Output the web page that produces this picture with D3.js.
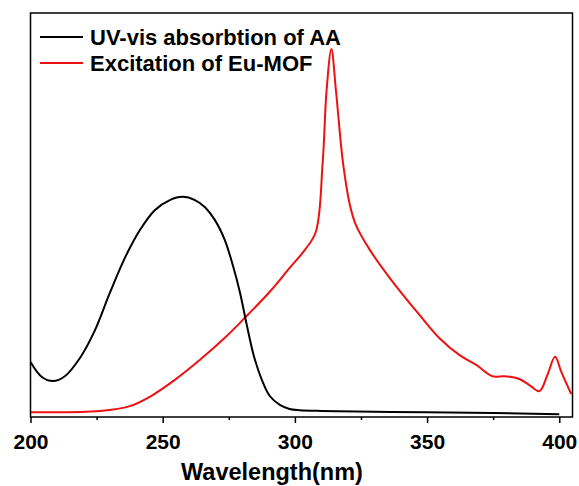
<!DOCTYPE html>
<html><head><meta charset="utf-8">
<script src="https://cdn.jsdelivr.net/npm/d3@7"></script>
<style>body{margin:0;background:#fff}svg{display:block}</style>
</head><body>
<script>
// Data
const uvWavelength = [200,204.3,208.5,213,218.7,224.4,230,235.7,241.4,247,252.7,257.6,262.2,266,269.7,273.5,276.5,279.2,281.8,284.4,287.5,290.5,294.3,298,301.8,310,330,350,375,400];
const uvIntensity  = [13.6,9.9,8.9,10.1,14.6,21.5,30.7,39.4,46.3,51.2,53.7,54.5,53.7,51.9,48.8,43.8,37.6,30.9,22.8,15.3,9.2,5.2,3.0,2.0,1.7,1.5,1.3,1.2,1.0,0.7];
const exWavelength = [200,226.3,237.6,245.1,254.6,264,273.5,281,290.5,298,303.7,307.9,310.5,312,313.8,315.5,318.2,320.8,323.1,328.4,335.9,347.2,354.7,362.3,368.6,374.7,379.2,384.9,388.7,392.5,395.5,398.4,400.8,404.5];
const exIntensity  = [1.2,1.5,2.7,5.0,9.2,14.1,19.6,24.5,31.0,36.9,41.3,45.8,62.9,81,91.1,81,62.9,52.5,47.5,41.3,34.4,25.2,19.5,15.3,12.9,10.1,10.1,9.4,7.9,6.4,10.4,14.9,11.1,5.7];
const xTicks = [200,250,300,350,400];
const xMinor = [225,275,325,375];
const seriesNames = ["UV-vis absorbtion of AA","Excitation of Eu-MOF"];
const seriesColors = ["#000000","#ee1111"];

const W=579,H=486;
const m={l:30.5,r:6.5,t:13,b:69};
const svg=d3.select("body").append("svg").attr("width",W).attr("height",H);
const x=d3.scaleLinear().domain([200,405]).range([m.l,W-m.r]);
const y=d3.scaleLinear().domain([0,100]).range([H-m.b,m.t]);
const font="'Liberation Sans',Arial,sans-serif";

const line=d3.line().x(d=>x(d[0])).y(d=>y(d[1])).curve(d3.curveCatmullRom.alpha(0.5));
const uv=uvWavelength.map((w,i)=>[w,uvIntensity[i]]);
const ex=exWavelength.map((w,i)=>[w,exIntensity[i]]);
svg.append("path").attr("d",line(ex)).attr("fill","none").attr("stroke",seriesColors[1]).attr("stroke-width",2);
svg.append("path").attr("d",line(uv)).attr("fill","none").attr("stroke",seriesColors[0]).attr("stroke-width",2);

// frame
svg.append("rect").attr("x",m.l).attr("y",m.t).attr("width",W-m.l-m.r).attr("height",H-m.t-m.b)
  .attr("fill","none").attr("stroke","#000").attr("stroke-width",1.5);

const ax=svg.append("g").attr("transform",`translate(0,${H-m.b})`)
  .call(d3.axisBottom(x).tickValues(xTicks).tickSize(6).tickSizeOuter(0));
ax.select(".domain").remove();
ax.selectAll("line").attr("stroke-width",1.5);
ax.selectAll("text").attr("font-family",font).attr("font-weight","bold").attr("font-size",21).attr("dy","0").attr("y",32);
const mn=svg.append("g").attr("transform",`translate(0,${H-m.b})`)
  .call(d3.axisBottom(x).tickValues(xMinor).tickSize(3).tickFormat(""));
mn.select(".domain").remove();
mn.selectAll("line").attr("stroke-width",1.5);

svg.append("text").attr("x",272).attr("y",480).attr("text-anchor","middle")
  .attr("font-family",font).attr("font-weight","bold").attr("font-size",23.5).text("Wavelength(nm)");

// legend
const lg=svg.append("g");
seriesNames.forEach((n,i)=>{
  const yy=37+i*26;
  lg.append("line").attr("x1",40).attr("x2",83).attr("y1",yy).attr("y2",yy).attr("stroke",seriesColors[i]).attr("stroke-width",2);
  lg.append("text").attr("x",90).attr("y",yy+8).attr("font-family",font).attr("font-weight","bold").attr("font-size",22).text(n);
});
</script>
</body></html>
